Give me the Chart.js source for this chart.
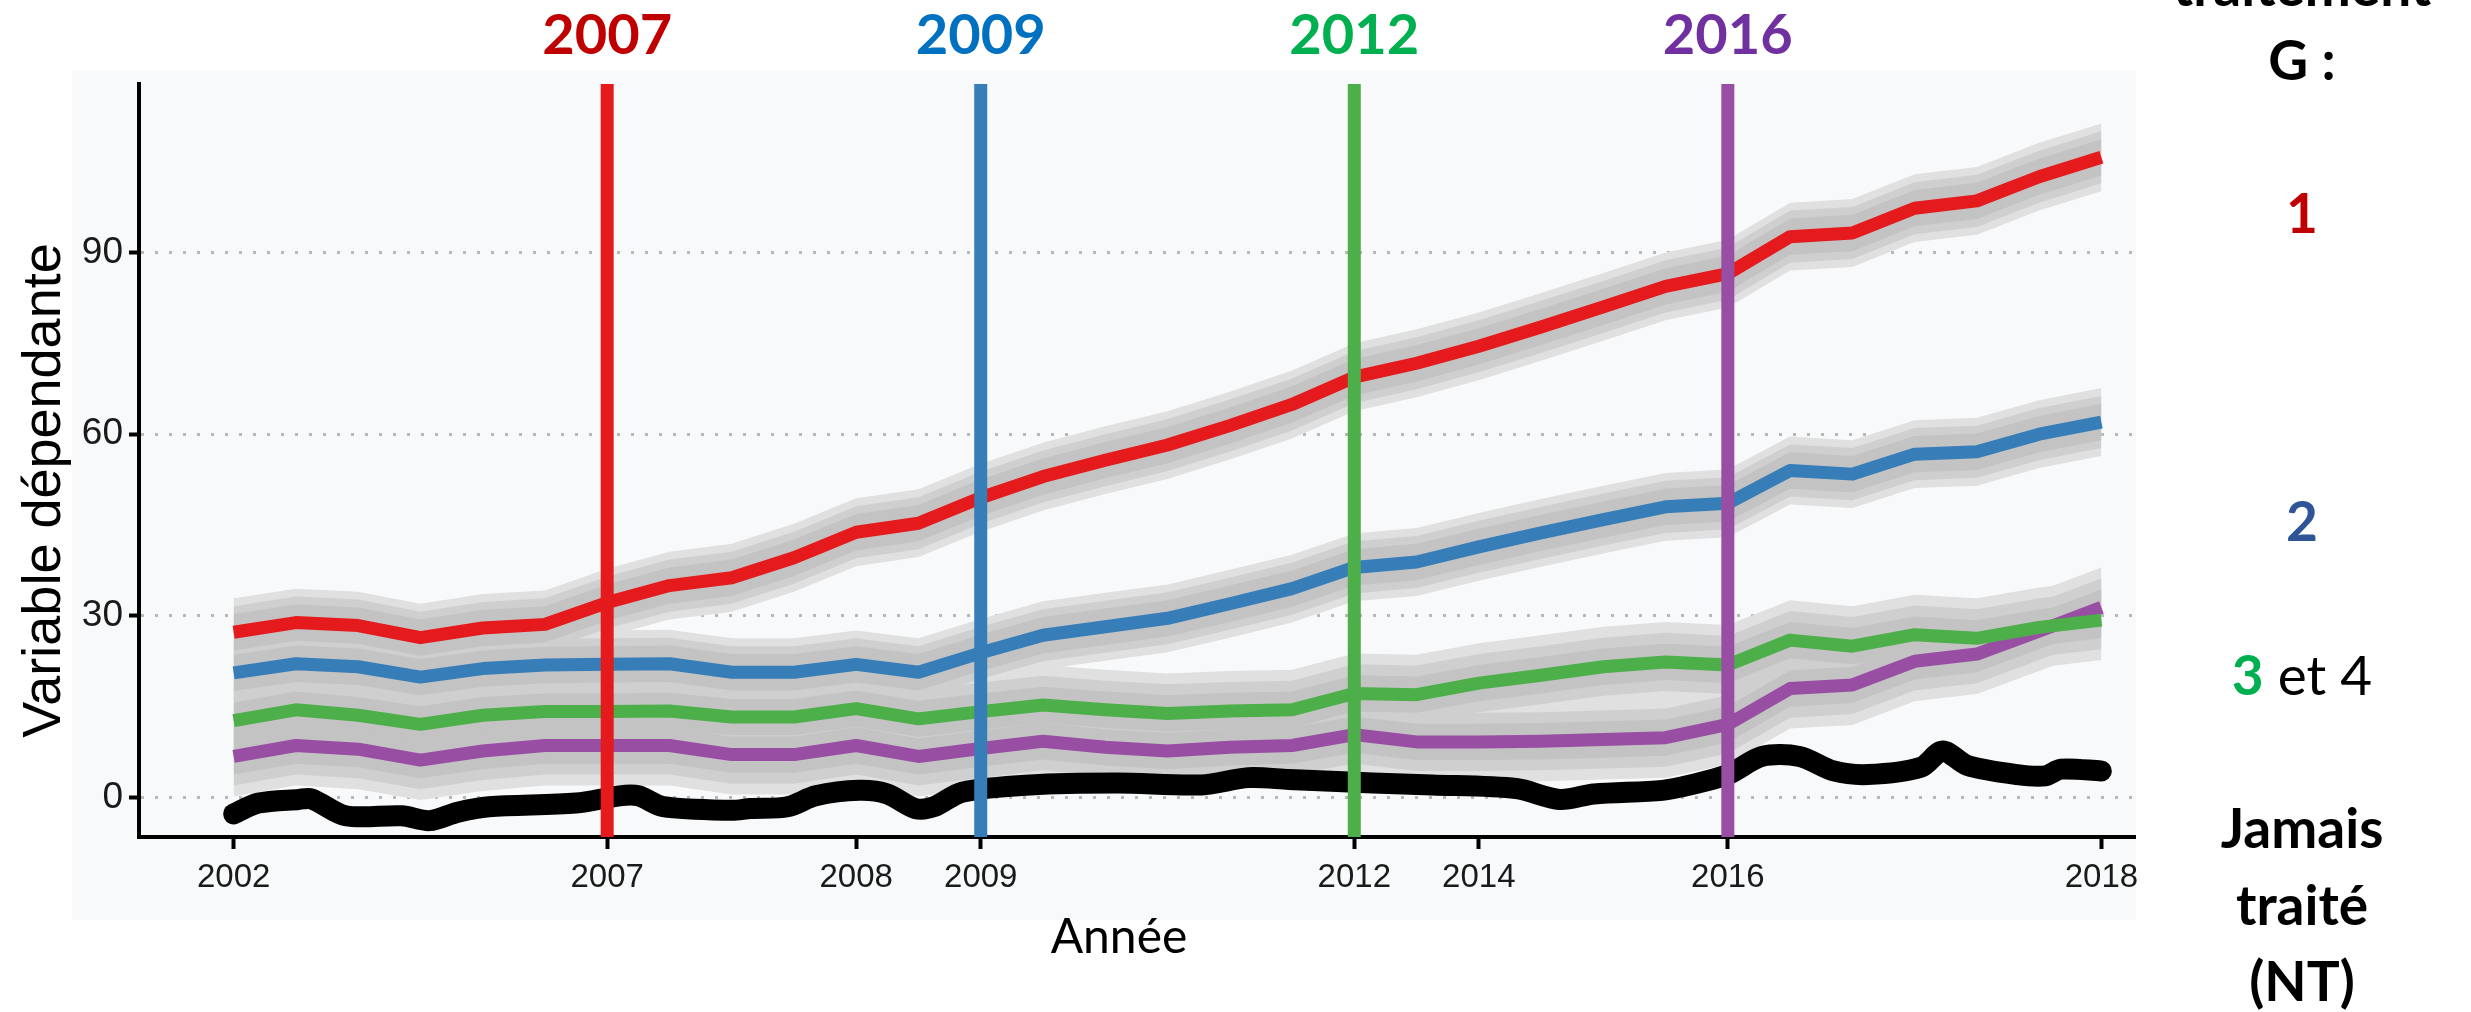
<!DOCTYPE html>
<html>
<head>
<meta charset="utf-8">
<script src="https://cdn.jsdelivr.net/npm/chart.js@4.4.0/dist/chart.umd.min.js"></script>
<style>
  html, body { margin: 0; padding: 0; background: #fff; }
  canvas { display: block; }
</style>
</head>
<body>
<canvas id="myChart" width="2471" height="1012"></canvas>
<script>
// x axis runs on a period index, labelled with years at chosen periods
const periods = [0,1,2,3,4,5,6,7,8,9,10,11,12,13,14,15,16,17,18,19,20,21,22,23,24,25,26,27,28,29,30];
const tickPeriods = [0, 6, 10, 12, 18, 20, 24, 30];
const tickLabels = ["2002", "2007", "2008", "2009", "2012", "2014", "2016", "2018"];
const yTicks = [0, 30, 60, 90];

// mean outcome per treatment group
const group1 = [27.3, 28.9, 28.4, 26.4, 28.0, 28.6, 32.2, 35.0, 36.3, 39.6, 43.8, 45.3, 49.5, 53.0, 55.7, 58.2,
                61.4, 64.9, 69.4, 71.7, 74.5, 77.7, 81.0, 84.4, 86.5, 92.6, 93.2, 97.3, 98.5, 102.5, 105.7];
const group2 = [20.6, 22.1, 21.6, 19.9, 21.3, 21.9, 22.0, 22.1, 20.7, 20.7, 22.0, 20.7, 23.9, 26.8, 28.2, 29.6,
                32.0, 34.5, 38.0, 38.9, 41.4, 43.7, 45.9, 48.0, 48.6, 54.0, 53.4, 56.7, 57.1, 60.0, 62.0];
const group3 = [12.7, 14.5, 13.6, 12.1, 13.6, 14.2, 14.2, 14.3, 13.3, 13.3, 14.7, 13.0, 14.2, 15.3, 14.5, 13.9,
                14.3, 14.5, 17.2, 17.0, 18.9, 20.2, 21.6, 22.4, 21.9, 26.0, 25.0, 26.9, 26.3, 28.1, 29.3];
const group4 = [6.8, 8.6, 8.0, 6.2, 7.7, 8.6, 8.6, 8.6, 7.1, 7.1, 8.6, 6.8, 8.1, 9.3, 8.3, 7.7,
                8.3, 8.6, 10.4, 9.2, 9.2, 9.3, 9.6, 9.9, 12.1, 18.0, 18.6, 22.5, 23.7, 27.5, 31.4];

// never treated group (finer time steps)
const ntPeriods = [0.0, 0.4, 1.05, 1.25, 1.8, 2.7, 3.15, 3.6, 4.1, 5.5, 6.2, 6.5, 6.9, 8.0, 8.3, 8.9, 9.35, 10.05,
                   10.5, 10.95, 11.25, 11.7, 12.8, 14.2, 15.55, 16.3, 16.95, 18.3, 19.25, 20.6, 21.3, 21.85, 22.95,
                   23.4, 24.0, 24.55, 25.15, 25.7, 26.25, 27.1, 27.45, 27.85, 28.65, 29.1, 29.35, 30.0];
const ntValues = [-2.7, -0.9, -0.3, -0.2, -3.0, -3.0, -3.8, -2.4, -1.5, -0.9, 0.3, 0.3, -1.5, -2.1, -1.8, -1.5, 0.3, 1.2,
                  0.6, -1.8, -1.5, 0.9, 2.1, 2.4, 2.1, 3.3, 3.0, 2.4, 2.1, 1.5, -0.3, 0.6, 1.2,
                  2.1, 3.8, 6.8, 6.8, 4.4, 3.8, 5.0, 7.7, 5.3, 3.8, 3.6, 4.7, 4.4];

// spread of the simulated trajectories around each group mean (three shades)
const spreadInner = [3.0, 3.0, 3.0, 3.0];
const spreadMid = [4.3, 4.3, 4.8, 4.8];
const spreadOuter = [5.6, 5.6, 6.6, 6.6];

// treatment start of each group
const treatPeriods = [6, 12, 18, 24];
const treatYears = ["2007", "2009", "2012", "2016"];

const lineColors = ["#e41a1c", "#377eb8", "#4daf4a", "#984ea3"];
const yearColors = ["#c00000", "#0070c0", "#00b050", "#7030a0"];

const Y_MIN = -6.5, Y_MAX = 117.8;
const groups = [group1, group2, group3, group4];

function pts(xs, ys) {
    return xs.map((x, i) => ({ x: x, y: ys[i] }));
}

function bandPair(values, spread, color, order) {
    const upper = values.map(v => v + spread);
    const lower = values.map(v => v - spread);
    return [
        { data: pts(periods, upper), borderWidth: 0, pointRadius: 0, fill: "+1", backgroundColor: color, order: order },
        { data: pts(periods, lower), borderWidth: 0, pointRadius: 0, fill: false, order: order }
    ];
}

const datasets = [];

// vertical treatment markers on top
treatPeriods.forEach((p, i) => {
    datasets.push({
        data: [{ x: p, y: Y_MIN }, { x: p, y: Y_MAX }],
        borderColor: lineColors[i],
        borderWidth: 13,
        borderCapStyle: "butt",
        pointRadius: 0,
        order: 0
    });
});

datasets.push({
    data: pts(ntPeriods, ntValues),
    borderColor: "#000",
    borderWidth: 21,
    borderCapStyle: "round",
    borderJoinStyle: "round",
    tension: 0.3,
    pointRadius: 0,
    order: 1
});

groups.forEach((g, i) => {
    datasets.push({
        data: pts(periods, g),
        borderColor: lineColors[i],
        borderWidth: 13,
        borderJoinStyle: "round",
        pointRadius: 0,
        order: 2
    });
});

groups.forEach((g, i) => datasets.push(...bandPair(g, spreadInner[i], "#c3c3c3", 3)));
groups.forEach((g, i) => datasets.push(...bandPair(g, spreadMid[i], "#cfcfcf", 4)));
groups.forEach((g, i) => datasets.push(...bandPair(g, spreadOuter[i], "#e0e0e0", 5)));

const decorations = {
    id: "decorations",
    beforeDraw(chart) {
        const ctx = chart.ctx;
        ctx.save();
        ctx.fillStyle = "#f8f9fa";
        ctx.fillRect(72, 70, 2064, 850);
        ctx.restore();
    },
    afterDraw(chart) {
        const ctx = chart.ctx;
        const xs = chart.scales.x;
        const ys = chart.scales.y;
        ctx.save();
        ctx.textAlign = "center";
        ctx.textBaseline = "alphabetic";

        // treatment years above the markers
        ctx.font = "bold 56px Lato";
        treatYears.forEach((yr, i) => {
            ctx.fillStyle = yearColors[i];
            ctx.fillText(yr, xs.getPixelForValue(treatPeriods[i]), 54);
        });

        // axis titles
        ctx.fillStyle = "#000";
        ctx.font = "48px Lato";
        ctx.fillText("Année", 1119, 953);
        ctx.save();
        ctx.translate(60, (ys.top + ys.bottom) / 2 + 30);
        ctx.rotate(-Math.PI / 2);
        ctx.font = "54px 'Liberation Sans'";
        ctx.fillText("Variable dépendante", 0, 0);
        ctx.restore();

        // group key on the right
        const cx = 2302;
        ctx.font = "bold 55px Lato";
        ctx.fillStyle = "#000";
        ctx.fillText("traitement", cx, 6);
        ctx.fillText("G :", cx, 80);
        ctx.fillStyle = "#c00000";
        ctx.fillText("1", cx, 233);
        ctx.fillStyle = "#2f5597";
        ctx.fillText("2", cx, 541);

        ctx.textAlign = "left";
        const w3 = ctx.measureText("3").width;
        ctx.font = "55px Lato";
        const wRest = ctx.measureText(" et 4").width;
        const x0 = cx - (w3 + wRest) / 2;
        ctx.font = "bold 55px Lato";
        ctx.fillStyle = "#00b050";
        ctx.fillText("3", x0, 695);
        ctx.font = "55px Lato";
        ctx.fillStyle = "#000";
        ctx.fillText(" et 4", x0 + w3, 695);

        ctx.textAlign = "center";
        ctx.font = "bold 55px Lato";
        ctx.fillText("Jamais", cx, 848);
        ctx.fillText("traité", cx, 925);
        ctx.fillText("(NT)", cx, 1001);
        ctx.restore();
    }
};

new Chart(document.getElementById("myChart"), {
    type: "line",
    data: { datasets: datasets },
    plugins: [decorations],
    options: {
        responsive: false,
        animation: false,
        layout: { padding: { top: 84, right: 336, bottom: 0, left: 0 } },
        plugins: {
            legend: { display: false },
            tooltip: { enabled: false }
        },
        scales: {
            x: {
                type: "linear",
                min: -1.52,
                max: 30.54,
                afterBuildTicks: s => { s.ticks = tickPeriods.map(v => ({ value: v })); },
                afterFit: s => { s.height = 175; },
                ticks: {
                    callback: (v, i) => tickLabels[i],
                    font: { family: "Liberation Sans", size: 33 },
                    color: "#1a1a1a",
                    padding: 9,
                    maxRotation: 0,
                    autoSkip: false
                },
                grid: { drawOnChartArea: false, tickLength: 12, tickWidth: 4, tickColor: "#000" },
                border: { color: "#000", width: 4 }
            },
            y: {
                min: Y_MIN,
                max: Y_MAX,
                afterBuildTicks: s => { s.ticks = yTicks.map(v => ({ value: v })); },
                afterFit: s => { s.width = 139; },
                ticks: {
                    font: { family: "Liberation Sans", size: 37 },
                    color: "#1a1a1a",
                    padding: 6
                },
                grid: { color: "#b8b8b8", lineWidth: 3, tickColor: "#000", tickLength: 10, tickWidth: 4, tickBorderDash: [] },
                border: { color: "#000", width: 4, dash: [3, 11] }
            }
        }
    }
});
</script>
</body>
</html>
